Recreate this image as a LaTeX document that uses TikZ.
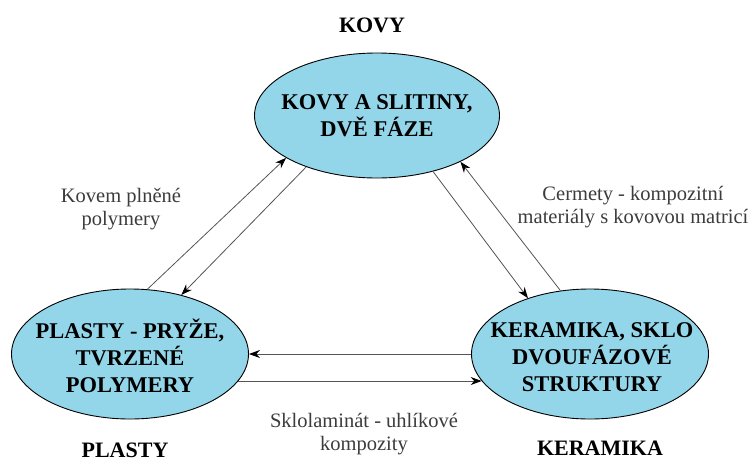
\documentclass[tikz,border=0pt]{standalone}
\usepackage{fontspec}
\setmainfont{Liberation Serif}
\usepackage{xcolor}
\usepackage{tikz}
\usetikzlibrary{shapes,arrows.meta}

\definecolor{ellblue}{RGB}{148,214,233}
\definecolor{notegray}{RGB}{60,60,60}
\definecolor{linkgray}{RGB}{85,85,85}

\begin{document}
\begin{tikzpicture}[x=1pt, y=-1pt,
    blob/.style={ellipse, draw=black, line width=0.9pt, fill=ellblue, inner sep=0pt},
    blobtext/.style={align=center, font=\fontsize{22.5}{27}\selectfont\bfseries},
    corner/.style={font=\fontsize{22}{26}\selectfont\bfseries},
    note/.style={align=center, text=notegray, font=\fontsize{20.5}{23}\selectfont},
    link/.style={draw=linkgray, line width=0.8pt, -{Stealth[length=11pt,width=8pt,color=black]}}]
    \useasboundingbox (0,0) rectangle (755,461);

    % the three groups of materials
    \node[blob, minimum width=245pt, minimum height=125pt] (kovy) at (377,115.5) {};
    \node[blobtext] (kovytext) at (kovy) {KOVY A SLITINY,\\DVĚ FÁZE};

    \node[blob, minimum width=237pt, minimum height=130pt] (plasty) at (130,354) {};
    \node[blobtext] (plastytext) at (130,356) {PLASTY - PRYŽE,\\TVRZENÉ\\POLYMERY};

    \node[blob, minimum width=237pt, minimum height=130pt] (keramika) at (590,354) {};
    \node[blobtext] (keramikatext) at (592,357) {KERAMIKA, SKLO\\DVOUFÁZOVÉ\\STRUKTURY};

    \node[corner] (kovylabel) at (372,25) {KOVY};
    \node[corner] (plastylabel) at (125,450) {PLASTY};
    \node[corner] (keramikalabel) at (600,448) {KERAMIKA};

    % arrows between the groups
    \draw[link] (plasty.75.3) -- (kovy.205.3);
    \draw[link] (kovy.216.9) -- (plasty.49);
    \draw[link] (kovy.315) -- (keramika.138.4);
    \draw[link] (keramika.115.9) -- (kovy.331);
    \draw[link] (keramika.west) -- (plasty.east);
    \draw[link] (plasty.-14) -- (keramika.194);

    \node[note] (kovemnote) at (121,209) {Kovem plněné\\polymery};
    \node[note] (cermetnote) at (633,207) {Cermety - kompozitní\\materiály s kovovou matricí};
    \node[note] (sklonote) at (364,434) {Sklolaminát - uhlíkové\\kompozity};
\end{tikzpicture}
\end{document}
